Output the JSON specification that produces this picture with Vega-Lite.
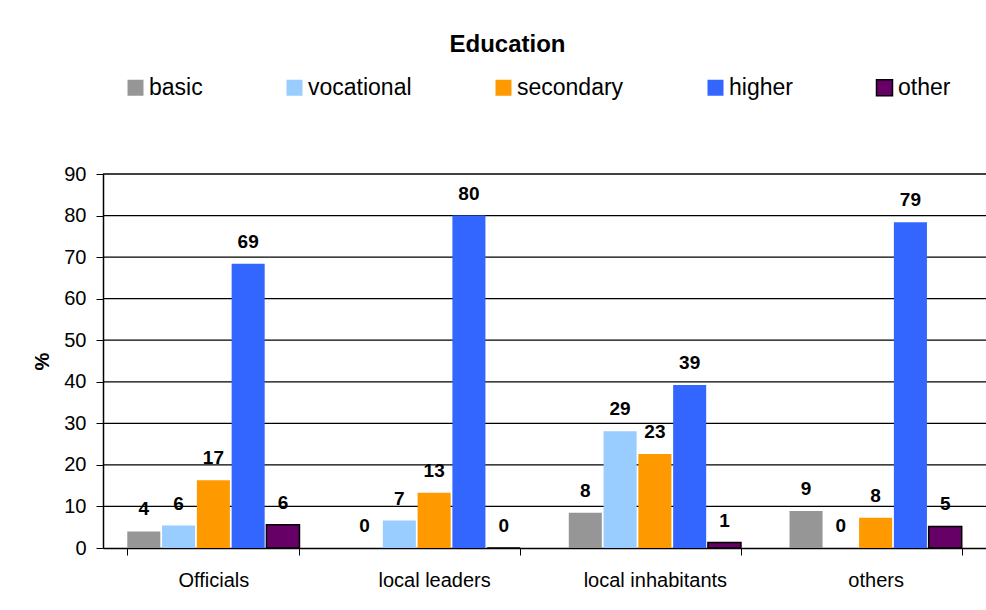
{
  "$schema": "https://vega.github.io/schema/vega-lite/v6.json",
  "width": 883,
  "height": 374,
  "autosize": {"type": "none"},
  "padding": {"left": 103, "top": 174, "right": 0, "bottom": 62},
  "background": "white",
  "title": {
    "text": "Education",
    "font": "Liberation Sans",
    "fontSize": 24,
    "fontWeight": "bold",
    "color": "black",
    "anchor": "middle",
    "frame": "group",
    "dx": -37,
    "offset": 19
  },
  "config": {
    "view": {"stroke": null},
    "font": "Liberation Sans"
  },
  "datasets": {
    "bars": [
      {"group": "Officials", "edu": "basic", "value": 4.0, "label": "4"},
      {"group": "Officials", "edu": "vocational", "value": 5.4, "label": "6"},
      {"group": "Officials", "edu": "secondary", "value": 16.3, "label": "17"},
      {"group": "Officials", "edu": "higher", "value": 68.4, "label": "69"},
      {"group": "Officials", "edu": "other", "value": 5.6, "label": "6"},
      {"group": "local leaders", "edu": "basic", "value": 0, "label": "0"},
      {"group": "local leaders", "edu": "vocational", "value": 6.6, "label": "7"},
      {"group": "local leaders", "edu": "secondary", "value": 13.3, "label": "13"},
      {"group": "local leaders", "edu": "higher", "value": 80.0, "label": "80"},
      {"group": "local leaders", "edu": "other", "value": 0, "label": "0"},
      {"group": "local inhabitants", "edu": "basic", "value": 8.5, "label": "8"},
      {"group": "local inhabitants", "edu": "vocational", "value": 28.1, "label": "29"},
      {"group": "local inhabitants", "edu": "secondary", "value": 22.6, "label": "23"},
      {"group": "local inhabitants", "edu": "higher", "value": 39.2, "label": "39"},
      {"group": "local inhabitants", "edu": "other", "value": 1.3, "label": "1"},
      {"group": "others", "edu": "basic", "value": 8.9, "label": "9"},
      {"group": "others", "edu": "vocational", "value": 0, "label": "0"},
      {"group": "others", "edu": "secondary", "value": 7.3, "label": "8"},
      {"group": "others", "edu": "higher", "value": 78.4, "label": "79"},
      {"group": "others", "edu": "other", "value": 5.2, "label": "5"}
    ],
    "gridlines": [
      {"value": 10}, {"value": 20}, {"value": 30}, {"value": 40}, {"value": 50},
      {"value": 60}, {"value": 70}, {"value": 80}, {"value": 90}
    ]
  },
  "layer": [
    {
      "data": {"name": "gridlines"},
      "mark": {"type": "rule", "color": "#000000", "strokeWidth": 1.3},
      "encoding": {
        "y": {"field": "value", "type": "quantitative", "scale": {"domain": [0, 90]}},
        "x": {"datum": 0, "type": "quantitative", "scale": {"domain": [0, 1]}, "axis": null},
        "x2": {"datum": 1}
      }
    },
    {
      "data": {"name": "bars"},
      "encoding": {
        "x": {
          "field": "group",
          "type": "nominal",
          "sort": ["Officials", "local leaders", "local inhabitants", "others"],
          "scale": {"paddingInner": 0.22, "paddingOuter": 0.11},
          "axis": {
            "title": null,
            "labelAngle": 0,
            "labelFont": "Liberation Sans",
            "labelFontSize": 20,
            "labelColor": "black",
            "labelPadding": 15,
            "tickSize": 7,
            "tickColor": "black",
            "tickBand": "extent",
            "domainColor": "black",
            "domainWidth": 1.5,
            "grid": false
          }
        },
        "xOffset": {
          "field": "edu",
          "type": "nominal",
          "sort": ["basic", "vocational", "secondary", "higher", "other"],
          "scale": {"paddingInner": 0.05}
        },
        "y": {
          "field": "value",
          "type": "quantitative",
          "scale": {"domain": [0, 90]},
          "axis": {
            "title": "%",
            "titleFont": "Liberation Sans",
            "titleFontSize": 20,
            "titleFontWeight": "bold",
            "titleColor": "black",
            "titlePadding": 11,
            "values": [0, 10, 20, 30, 40, 50, 60, 70, 80, 90],
            "labelFont": "Liberation Sans",
            "labelFontSize": 20,
            "labelColor": "black",
            "labelPadding": 10,
            "tickSize": 7,
            "tickColor": "black",
            "domainColor": "black",
            "domainWidth": 1.5,
            "grid": false
          }
        }
      },
      "layer": [
        {
          "mark": {"type": "bar", "strokeWidth": 1.5},
          "encoding": {
            "color": {
              "field": "edu",
              "type": "nominal",
              "sort": ["basic", "vocational", "secondary", "higher", "other"],
              "scale": {
                "domain": ["basic", "vocational", "secondary", "higher", "other"],
                "range": ["#969696", "#99CCFF", "#FF9900", "#3366FF", "#660066"]
              },
              "legend": {
                "orient": "none",
                "legendX": 21,
                "legendY": -98,
                "direction": "horizontal",
                "title": null,
                "symbolType": "square",
                "symbolSize": 256,
                "symbolStrokeWidth": 1.5,
                "labelFont": "Liberation Sans",
                "labelFontSize": 23,
                "labelColor": "black",
                "labelOffset": 2,
                "columnPadding": 80,
                "padding": 0
              }
            },
            "stroke": {
              "field": "edu",
              "type": "nominal",
              "sort": ["basic", "vocational", "secondary", "higher", "other"],
              "scale": {
                "domain": ["basic", "vocational", "secondary", "higher", "other"],
                "range": ["transparent", "transparent", "transparent", "transparent", "#000000"]
              }
            }
          }
        },
        {
          "mark": {
            "type": "text",
            "font": "Liberation Sans",
            "fontSize": 19,
            "fontWeight": "bold",
            "color": "black",
            "baseline": "middle",
            "align": "center",
            "dy": -22
          },
          "encoding": {
            "text": {"field": "label", "type": "nominal"}
          }
        }
      ]
    }
  ],
  "resolve": {"scale": {"x": "independent"}}
}
